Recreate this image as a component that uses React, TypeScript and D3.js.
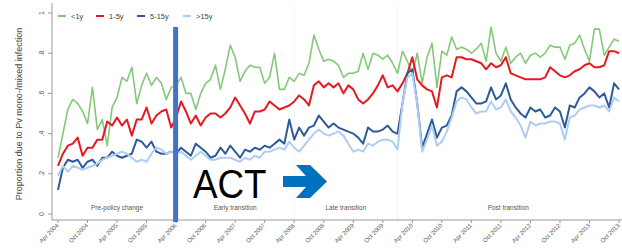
import React from 'react';
import * as d3 from 'd3';

// monthly proportions, Apr 2004 .. Oct 2013
const under1 = [
  0.28, 0.4, 0.52, 0.57, 0.55, 0.51, 0.45, 0.63, 0.42, 0.47, 0.34, 0.53, 0.58, 0.68, 0.66, 0.73, 0.55, 0.64, 0.7, 0.64,
  0.68, 0.65, 0.57, 0.63, 0.64, 0.68, 0.6, 0.6, 0.52, 0.6, 0.65, 0.67, 0.74, 0.62, 0.72, 0.84, 0.78, 0.66, 0.71, 0.74,
  0.73, 0.73, 0.65, 0.68, 0.8, 0.62, 0.62, 0.68, 0.66, 0.7, 0.69, 0.75, 0.89, 0.82, 0.76, 0.77, 0.76, 0.74, 0.68, 0.7,
  0.7, 0.71, 0.8, 0.72, 0.8, 0.79, 0.77, 0.79, 0.75, 0.7, 0.81, 0.76, 0.7, 0.8, 0.65, 0.78, 0.85, 0.63, 0.81, 0.79,
  0.88, 0.82, 0.83, 0.82, 0.8, 0.82, 0.85, 0.76, 0.93, 0.8, 0.76, 0.83, 0.75, 0.78, 0.8, 0.75, 0.79, 0.8, 0.78, 0.8,
  0.84, 0.83, 0.83, 0.77, 0.84, 0.85, 0.89, 0.82, 0.76, 0.92, 0.92, 0.79, 0.83, 0.87, 0.86,
];
const age1to5 = [
  0.24, 0.3, 0.34, 0.35, 0.38, 0.29, 0.33, 0.33, 0.37, 0.37, 0.46, 0.44, 0.48, 0.44, 0.47, 0.39, 0.47, 0.47, 0.53, 0.45,
  0.49, 0.51, 0.52, 0.43, 0.48, 0.56, 0.51, 0.45, 0.49, 0.44, 0.48, 0.5, 0.5, 0.48, 0.5, 0.53, 0.58, 0.54, 0.5, 0.45,
  0.51, 0.51, 0.52, 0.56, 0.54, 0.52, 0.53, 0.54, 0.56, 0.59, 0.57, 0.54, 0.64, 0.66, 0.63, 0.65, 0.63, 0.65, 0.6, 0.64,
  0.62, 0.57, 0.55, 0.57, 0.6, 0.64, 0.69, 0.63, 0.64, 0.61, 0.65, 0.7, 0.78, 0.67, 0.64, 0.62, 0.61, 0.53, 0.68, 0.69,
  0.68, 0.78, 0.78, 0.77, 0.77, 0.76, 0.75, 0.72, 0.75, 0.73, 0.74, 0.78, 0.7, 0.69, 0.68, 0.67, 0.67, 0.67, 0.67, 0.68,
  0.73, 0.71, 0.69, 0.68, 0.69, 0.71, 0.72, 0.74, 0.75, 0.73, 0.73, 0.74, 0.81, 0.81, 0.8,
];
const age5to15 = [
  0.12, 0.23, 0.27, 0.26, 0.27, 0.23, 0.26, 0.27, 0.24, 0.28, 0.28, 0.31, 0.29, 0.28, 0.29, 0.3, 0.37, 0.36, 0.33, 0.36,
  0.31, 0.3, 0.3, 0.31, 0.3, 0.33, 0.31, 0.29, 0.35, 0.33, 0.31, 0.28, 0.29, 0.33, 0.3, 0.34, 0.31, 0.28, 0.32, 0.31,
  0.33, 0.32, 0.34, 0.33, 0.35, 0.37, 0.35, 0.47, 0.37, 0.43, 0.39, 0.43, 0.44, 0.49, 0.46, 0.43, 0.45, 0.43, 0.42, 0.41,
  0.4, 0.38, 0.35, 0.43, 0.41, 0.41, 0.42, 0.44, 0.41, 0.4, 0.55, 0.7, 0.72, 0.55, 0.33, 0.4, 0.47, 0.38, 0.43, 0.44,
  0.49, 0.61, 0.63, 0.61, 0.58, 0.55, 0.55, 0.56, 0.63, 0.57, 0.59, 0.65, 0.57, 0.53, 0.5, 0.48, 0.53, 0.51, 0.52, 0.48,
  0.49, 0.53, 0.51, 0.43, 0.54, 0.53, 0.58, 0.6, 0.63, 0.61, 0.58, 0.6, 0.53, 0.65, 0.62,
];
const over15 = [
  0.19, 0.24, 0.21, 0.24, 0.23, 0.22, 0.23, 0.24, 0.25, 0.27, 0.28, 0.29, 0.3, 0.31, 0.3, 0.28, 0.26, 0.27, 0.26, 0.3,
  0.33, 0.32, 0.3, 0.31, 0.3, 0.31, 0.29, 0.27, 0.29, 0.31, 0.29, 0.27, 0.27, 0.28, 0.28, 0.28, 0.27, 0.26, 0.28, 0.27,
  0.29, 0.28, 0.31, 0.31, 0.32, 0.33, 0.32, 0.36, 0.33, 0.31, 0.34, 0.37, 0.4, 0.42, 0.4, 0.39, 0.4, 0.41, 0.39, 0.35,
  0.31, 0.32, 0.31, 0.35, 0.34, 0.36, 0.37, 0.37, 0.36, 0.32, 0.55, 0.68, 0.7, 0.55, 0.31, 0.37, 0.44, 0.34, 0.36, 0.41,
  0.48, 0.56, 0.58, 0.57, 0.53, 0.5, 0.51, 0.51, 0.56, 0.52, 0.53, 0.57, 0.51, 0.48, 0.44, 0.38, 0.46, 0.44, 0.45, 0.45,
  0.46, 0.46, 0.45, 0.37, 0.48, 0.49, 0.52, 0.53, 0.54, 0.54, 0.53, 0.54, 0.51, 0.58, 0.56,
];

const seriesNames = ['<1y', '1-5y', '5-15y', '>15y'];
const seriesColors = ['#84c978', '#e5191f', '#2d5b98', '#afcdf1'];

const tickLabels = [
  'Apr 2004', 'Oct 2004', 'Apr 2005', 'Oct 2005', 'Apr 2006', 'Oct 2006', 'Apr 2007', 'Oct 2007', 'Apr 2008', 'Oct 2008',
  'Apr 2009', 'Oct 2009', 'Apr 2010', 'Oct 2010', 'Apr 2011', 'Oct 2011', 'Apr 2012', 'Oct 2012', 'Apr 2013', 'Oct 2013',
];
const yTicks = [0, 0.2, 0.4, 0.6, 0.8, 1];
const yTickLabels = ['0', '.2', '.4', '.6', '.8', '1'];

const periodNames = ['Pre-policy change', 'Early transition', 'Late transition', 'Post transition'];
const periodStarts = [0, 24, 48, 69, 114]; // month index
const actMonth = 24;

const W = 622;
const H = 249;
const font = 'Liberation Sans, Arial, sans-serif';

const App = () => {
  const data = [under1, age1to5, age5to15, over15];
  const x = d3.scaleLinear().domain([0, under1.length - 1]).range([58, 619]);
  const y = d3.scaleLinear().domain([0, 1]).range([214, 13]);
  const line = d3
    .line<number>()
    .x((d, i) => x(i))
    .y((d) => y(d));
  const axisY = 220;
  const legendX = [58, 96, 137, 183];

  return (
    <div style={{ position: 'fixed', left: 0, top: 0 }}>
      <svg width={W} height={H} style={{ display: 'block', background: '#fff' }} fontFamily={font}>
        {/* period separators */}
        {periodStarts.slice(2, 4).map((m) => (
          <line key={m} x1={x(m)} x2={x(m)} y1={6} y2={axisY} stroke="#e2e2e2" strokeWidth={0.8} strokeDasharray="1,1" />
        ))}
        {periodNames.map((p, i) => (
          <text
            key={p}
            x={(x(periodStarts[i]) + x(periodStarts[i + 1])) / 2}
            y={210}
            fontSize={6.5}
            fill="#555"
            textAnchor="middle"
          >
            {p}
          </text>
        ))}

        {/* axes */}
        <line x1={52} x2={52} y1={3} y2={axisY} stroke="#999" strokeWidth={1} />
        <line x1={52} x2={W} y1={axisY} y2={axisY} stroke="#999" strokeWidth={1} />
        {yTicks.map((t, i) => (
          <g key={t}>
            <line x1={48} x2={52} y1={y(t)} y2={y(t)} stroke="#999" />
            <text
              transform={`translate(44,${y(t)}) rotate(-90)`}
              fontSize={7}
              fill="#555"
              textAnchor="middle"
            >
              {yTickLabels[i]}
            </text>
          </g>
        ))}
        {tickLabels.map((t, i) => (
          <g key={t}>
            <line x1={x(i * 6)} x2={x(i * 6)} y1={axisY} y2={axisY + 3} stroke="#999" />
            <text
              transform={`translate(${x(i * 6) + 1},${axisY + 6}) rotate(-45)`}
              fontSize={6}
              fill="#555"
              textAnchor="end"
            >
              {t}
            </text>
          </g>
        ))}
        <text
          transform="translate(22,114) rotate(-90)"
          fontSize={9}
          fill="#444"
          textAnchor="middle"
        >
          Proportion due to Pv mono-/mixed infection
        </text>

        {/* series */}
        {data.map((s, i) => (
          <path
            key={seriesNames[i]}
            d={line(s) || ''}
            fill="none"
            stroke={seriesColors[i]}
            strokeWidth={i === 0 ? 1.6 : 2}
            strokeLinejoin="round"
          />
        ))}

        {/* legend */}
        {seriesNames.map((n, i) => (
          <g key={n}>
            <line x1={legendX[i]} x2={legendX[i] + 8} y1={16} y2={16} stroke={seriesColors[i]} strokeWidth={2} />
            <text x={legendX[i] + 13} y={18.5} fontSize={7.5} fill="#444">
              {n}
            </text>
          </g>
        ))}

        {/* ACT annotation */}
        <rect x={x(actMonth) - 3} y={27} width={5} height={195} fill="#4472c4" />
        <text transform="translate(193,198) scale(0.92,1)" fontSize={40} fill="#000">
          ACT
        </text>
        <path
          d="M283,176 H306 L296,165 H310 L327,181.5 L310,198 H296 L306,187 H283 Z"
          fill="#0070c0"
        />
      </svg>
    </div>
  );
};

export default App;
